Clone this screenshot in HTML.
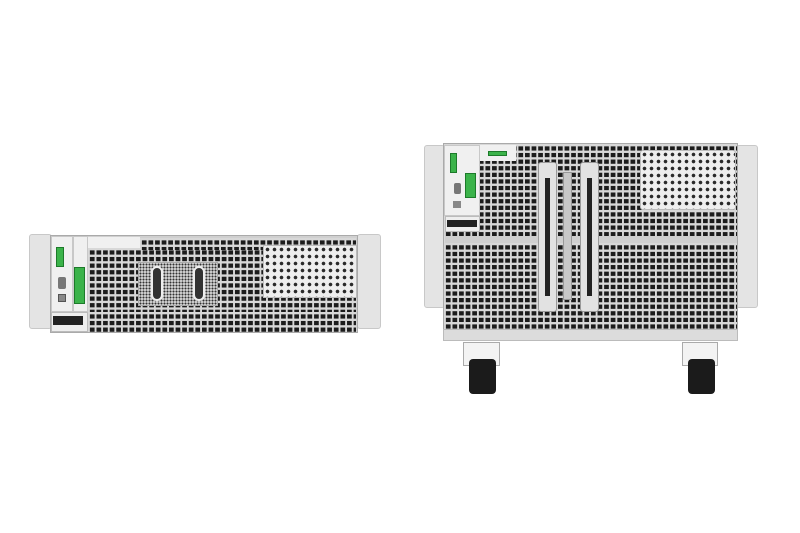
<!DOCTYPE html>
<html><head><style>
body{margin:0;width:800px;height:533px;background:#fff;position:relative;overflow:hidden;font-family:"Liberation Sans",sans-serif}
div{position:absolute;box-sizing:border-box}
.grid{background-color:#1c1c1c;background-image:linear-gradient(90deg,#d8d8d8 2px,transparent 2px),linear-gradient(#d8d8d8 2.2px,transparent 2.2px);background-size:6.6px 6.6px}
.dots{background-color:#eeeeee;background-image:radial-gradient(circle,#2a2a2a 1.6px,transparent 2px);background-size:7px 7px;border:1px solid #bbb}
.fdots{background-color:#e6e6e6;background-image:radial-gradient(circle,#333 0.9px,transparent 1.2px);background-size:3px 3px;border:1px solid #aaa}
.ear{background:#e4e4e4;border:1px solid #c8c8c8}
.panel{background:#f0f0f0;border:1px solid #c8c8c8}
.green{background:#3bb34a;border:1px solid #1d7a2a}
</style></head><body>
<!-- LEFT UNIT -->
<div class="ear" style="left:29px;top:234px;width:23px;height:95px;border-radius:3px"></div>
<div class="ear" style="left:357px;top:234px;width:24px;height:95px;border-radius:3px"></div>
<div style="left:50px;top:235px;width:308px;height:98px;background:#d0d0d0;border:1px solid #aaa"></div>
<div class="grid" style="left:88px;top:248px;width:268px;height:83px"></div>
<div class="grid" style="left:140px;top:238px;width:216px;height:12px"></div>
<div class="panel" style="left:88px;top:237px;width:52px;height:11px;border:none"></div>
<div class="grid" style="left:88px;top:312px;width:268px;height:20px"></div>
<div class="panel" style="left:51px;top:236px;width:22px;height:76px"></div>
<div class="panel" style="left:73px;top:236px;width:15px;height:76px"></div>
<div class="green" style="left:56px;top:247px;width:8px;height:20px"></div>
<div style="left:58px;top:277px;width:8px;height:12px;background:#777;border-radius:2px"></div>
<div style="left:58px;top:294px;width:8px;height:8px;background:#888;border:1px solid #555"></div>
<div class="green" style="left:74px;top:267px;width:11px;height:37px"></div>
<div style="left:51px;top:312px;width:37px;height:20px;background:#eee;border:1px solid #bbb"></div>
<div style="left:53px;top:316px;width:30px;height:9px;background:#222"></div>
<div class="fdots" style="left:138px;top:262px;width:80px;height:44px;background-color:#ddd"></div>
<div style="left:151px;top:266px;width:12px;height:35px;border-radius:6px;background:#333;border:2px solid #eee"></div>
<div style="left:193px;top:266px;width:12px;height:35px;border-radius:6px;background:#333;border:2px solid #eee"></div>
<div class="dots" style="left:263px;top:245px;width:94px;height:53px"></div>
<!-- RIGHT UNIT -->
<div class="ear" style="left:424px;top:145px;width:21px;height:163px;border-radius:3px"></div>
<div class="ear" style="left:736px;top:145px;width:22px;height:163px;border-radius:3px"></div>
<div style="left:443px;top:143px;width:295px;height:190px;background:#d0d0d0;border:1px solid #aaa"></div>
<div class="grid" style="left:444px;top:144px;width:293px;height:185px"></div>
<div style="left:445px;top:236px;width:292px;height:7px;background:#cfcfcf"></div>
<div style="left:443px;top:329px;width:295px;height:12px;background:#dcdcdc;border:1px solid #bbb"></div>
<div class="panel" style="left:444px;top:145px;width:36px;height:71px"></div>
<div class="green" style="left:450px;top:153px;width:7px;height:20px"></div>
<div class="green" style="left:465px;top:173px;width:11px;height:25px"></div>
<div style="left:454px;top:183px;width:7px;height:11px;background:#777;border-radius:2px"></div>
<div style="left:453px;top:201px;width:8px;height:7px;background:#888"></div>
<div style="left:445px;top:216px;width:35px;height:16px;background:#eee;border:1px solid #bbb"></div>
<div style="left:447px;top:220px;width:30px;height:7px;background:#222"></div>
<div class="panel" style="left:480px;top:145px;width:36px;height:16px;border:none"></div>
<div class="green" style="left:488px;top:151px;width:19px;height:5px"></div>
<div style="left:538px;top:162px;width:19px;height:150px;background:#e2e2e2;border:1px solid #999;border-radius:3px"></div>
<div style="left:545px;top:178px;width:5px;height:118px;background:#222"></div>
<div style="left:580px;top:162px;width:19px;height:150px;background:#e2e2e2;border:1px solid #999;border-radius:3px"></div>
<div style="left:587px;top:178px;width:5px;height:118px;background:#222"></div>
<div style="left:563px;top:172px;width:9px;height:128px;background:#c8c8c8;border:1px solid #999"></div>
<div class="dots" style="left:640px;top:150px;width:96px;height:60px;border-radius:3px"></div>
<!-- wheels -->
<div style="left:463px;top:342px;width:37px;height:24px;background:#f3f3f3;border:1px solid #aaa"></div>
<div style="left:469px;top:359px;width:27px;height:35px;background:#1b1b1b;border-radius:4px"></div>
<div style="left:682px;top:342px;width:36px;height:24px;background:#f3f3f3;border:1px solid #aaa"></div>
<div style="left:688px;top:359px;width:27px;height:35px;background:#1b1b1b;border-radius:4px"></div>
</body></html>
